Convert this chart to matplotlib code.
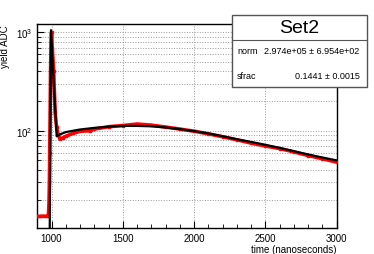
import matplotlib.pyplot as plt
import matplotlib.ticker as ticker
import numpy as np

plt.rcParams['font.family'] = ['Liberation Sans', 'DejaVu Sans']

data_t = [900, 920, 940, 960, 975, 978, 982, 985, 987, 990, 993, 997, 1000,
          1005, 1015, 1025, 1035, 1045, 1060, 1080, 1100, 1150, 1200, 1270,
          1300, 1400, 1500, 1600, 1700, 1800, 1900, 2000, 2100, 2200, 2300,
          2400, 2500, 2600, 2700, 2800, 2900, 3000]
data_y = [13.5, 13.5, 13.6, 13.5, 13.7, 14, 18, 30, 60, 150, 400, 800, 1000,
          700, 400, 155, 110, 92, 82, 85, 88, 94, 99, 100,
          104, 110, 113, 117, 114, 109, 104, 99, 93, 87, 81,
          75, 70, 66, 61, 56, 52, 48]

# fitted function (black)
fit_t = [986, 996, 1036, 1060, 1100, 1200, 1300, 1400, 1500, 1600, 1700,
         1800, 1900, 2000, 2100, 2200, 2300, 2400, 2500, 2600, 2700, 2800,
         2900, 3000]
fit_y = [5, 1050, 88, 92, 97, 103, 107, 110, 112, 112, 111,
         108, 104, 99, 94, 88, 82, 77, 72, 67, 62, 57.5,
         53.5, 50]

fig = plt.figure(figsize=(3.74, 2.55), dpi=100)
ax = fig.add_axes([0.0997, 0.102, 0.8006, 0.800])

ax.plot(data_t, data_y, color='red', lw=2.6, zorder=3)
ax.plot(data_t, data_y, 's', color='red', ms=2, zorder=3)
ax.plot(fit_t, fit_y, color='black', lw=1.6, zorder=4)

ax.set_yscale('log')
ax.set_xlim(900, 3000)
ax.set_ylim(10.3, 1214)

ax.xaxis.set_major_locator(ticker.MultipleLocator(500))
ax.xaxis.set_minor_locator(ticker.MultipleLocator(100))
ax.yaxis.set_major_locator(ticker.LogLocator(base=10))
ax.yaxis.set_minor_locator(ticker.LogLocator(base=10, subs=np.arange(2, 10)))
ax.yaxis.set_minor_formatter(ticker.NullFormatter())

ax.grid(True, which='major', axis='x', color='#999999', ls=':', lw=0.7)
ax.grid(True, which='both', axis='y', color='#999999', ls=':', lw=0.7)

ax.tick_params(which='both', direction='in', top=False, right=False,
               labelsize=7)
ax.tick_params(which='major', length=5)
ax.tick_params(which='minor', length=3)
for s in ax.spines.values():
    s.set_linewidth(1.0)

ax.set_ylabel('yield ADC', fontsize=7, loc='top')
ax.set_xlabel('time (nanoseconds)', fontsize=7, loc='right', labelpad=1)

# stats box
bx0, by0, bw, bh = 231.7 / 374, 1 - 87.7 / 255, 135 / 374, 71.7 / 255
fig.patches.append(plt.Rectangle((bx0, by0), bw, bh, transform=fig.transFigure,
                                 facecolor='white', edgecolor='#555555', lw=1, zorder=10))
ty = 1 - 41 / 255
fig.add_artist(plt.Line2D([bx0, bx0 + bw], [ty, ty], transform=fig.transFigure,
                          color='#555555', lw=0.8, zorder=11))
fig.text(bx0 + bw / 2, 1 - 28.5 / 255, 'Set2', fontsize=14, ha='center', va='center', zorder=12)
fig.text(237 / 374, 1 - 52 / 255, 'norm', fontsize=6.5, ha='left', va='center', zorder=12)
fig.text(359.5 / 374, 1 - 52 / 255, '2.974e+05 \u00b1 6.954e+02', fontsize=6.5,
         ha='right', va='center', zorder=12)
fig.text(237 / 374, 1 - 76.7 / 255, 'sfrac', fontsize=6.5, ha='left', va='center', zorder=12)
fig.text(359.5 / 374, 1 - 76.7 / 255, '0.1441 \u00b1 0.0015', fontsize=6.5,
         ha='right', va='center', zorder=12)

fig.savefig('out.png', dpi=100)
